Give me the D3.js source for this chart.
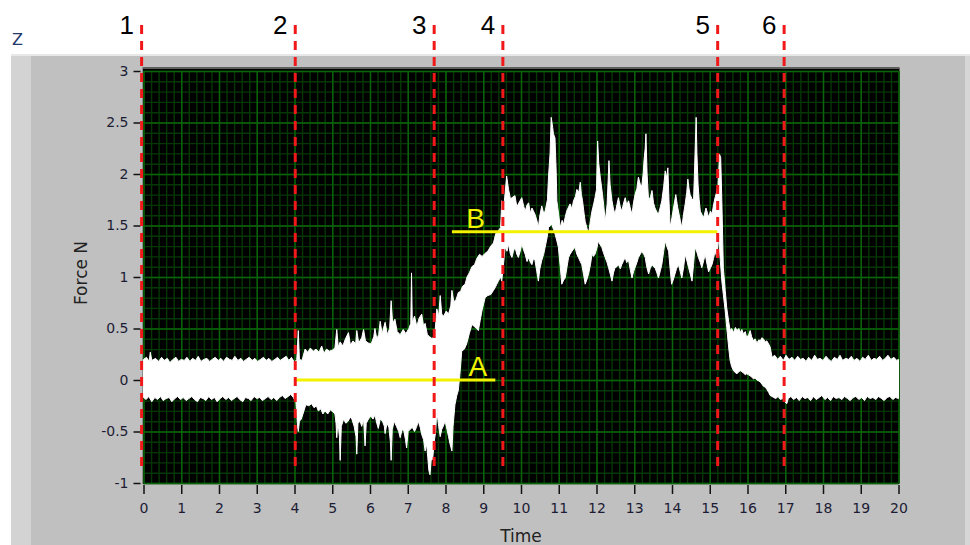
<!DOCTYPE html>
<html>
<head>
<meta charset="utf-8">
<script src="https://cdn.jsdelivr.net/npm/d3@7"></script>
<style>
    body { margin: 0; background: #fff; }
    svg { display: block; }
    .axis text { font-family: "DejaVu Sans", sans-serif; font-size: 14px; fill: #1c1c34; }
    .axis line { stroke: #111; stroke-width: 1.5; }
    .grid text { display: none; }
</style>
</head>
<body>
<script>
// axis ticks
const xTicks = [0,1,2,3,4,5,6,7,8,9,10,11,12,13,14,15,16,17,18,19,20];
const yTicks = [-1,-0.5,0,0.5,1,1.5,2,2.5,3];

// phase markers (red dashed) and level markers (yellow)
const phaseX = [-0.05, 4.02, 7.70, 9.52, 15.21, 16.97];
const phaseNames = ["1", "2", "3", "4", "5", "6"];
const levelNames = ["A", "B"];
const levelValue = [0, 1.44];
const levelStart = [4.02, 8.17];
const levelEnd = [9.32, 15.20];
const levelLabelX = [8.86, 8.80];

// upper edge of the force trace, [time, force]
const upperEnv = [
[0.00,0.20],[0.08,0.22],[0.15,0.18],[0.18,0.27],[0.22,0.19],[0.32,0.21],[0.40,0.18],[0.48,0.22],[0.55,0.19],[0.63,0.21],
[0.70,0.17],[0.78,0.20],[0.86,0.22],[0.93,0.18],[1.00,0.20],[1.08,0.19],[1.15,0.22],[1.23,0.18],[1.30,0.21],[1.38,0.19],
[1.45,0.23],[1.52,0.18],[1.60,0.20],[1.68,0.21],[1.75,0.18],[1.82,0.20],[1.90,0.22],[1.98,0.19],[2.05,0.21],[2.12,0.18],
[2.20,0.22],[2.28,0.20],[2.35,0.19],[2.42,0.23],[2.50,0.19],[2.58,0.21],[2.65,0.18],[2.72,0.20],[2.80,0.22],[2.88,0.19],
[2.95,0.21],[3.02,0.18],[3.10,0.20],[3.18,0.22],[3.25,0.19],[3.32,0.21],[3.40,0.18],[3.48,0.20],[3.55,0.22],[3.62,0.19],
[3.70,0.21],[3.78,0.23],[3.85,0.19],[3.92,0.22],[4.00,0.17],
[4.06,0.20],[4.10,0.48],[4.13,0.20],[4.20,0.19],[4.28,0.30],[4.35,0.27],[4.42,0.31],[4.50,0.28],[4.57,0.30],[4.65,0.27],
[4.72,0.33],[4.78,0.26],[4.85,0.30],[4.92,0.28],[5.00,0.29],[5.07,0.31],[5.12,0.49],[5.16,0.32],[5.21,0.37],[5.28,0.33],
[5.35,0.40],[5.43,0.46],[5.48,0.34],[5.55,0.38],[5.62,0.35],[5.65,0.48],[5.70,0.36],[5.78,0.41],[5.83,0.49],[5.88,0.38],
[5.95,0.36],[6.03,0.35],[6.10,0.42],[6.13,0.50],[6.18,0.40],[6.23,0.44],[6.27,0.57],[6.32,0.45],[6.40,0.56],[6.46,0.44],
[6.52,0.50],[6.56,0.77],[6.60,0.55],[6.66,0.59],[6.72,0.47],[6.80,0.44],[6.88,0.49],[6.95,0.45],[7.03,0.50],[7.08,0.55],
[7.10,1.04],[7.12,0.56],[7.18,0.62],[7.24,0.52],[7.30,0.60],[7.37,0.64],[7.42,0.52],[7.46,0.55],[7.52,0.44],[7.58,0.42],
[7.65,0.40],[7.72,0.45],[7.77,0.69],[7.82,0.62],[7.86,0.82],[7.90,0.64],[7.95,0.62],[8.02,0.67],[8.08,0.64],[8.14,0.72],
[8.17,0.87],[8.22,0.76],[8.28,0.78],[8.34,0.85],[8.40,0.86],[8.45,0.91],[8.52,0.93],[8.57,1.00],[8.63,1.04],[8.70,1.10],
[8.77,1.12],[8.83,1.18],[8.90,1.22],[8.97,1.20],[9.05,1.23],[9.12,1.25],[9.20,1.30],[9.27,1.33],[9.33,1.42],[9.40,1.45],
[9.46,1.48],
[9.49,1.74],[9.55,1.70],[9.62,1.98],[9.67,1.85],[9.72,1.76],[9.76,1.77],[9.84,1.79],[9.89,1.68],[9.93,1.71],[10.02,1.77],
[10.07,1.69],[10.11,1.64],[10.16,1.70],[10.20,1.72],[10.25,1.62],[10.29,1.67],[10.37,1.61],[10.42,1.55],[10.46,1.48],[10.50,1.60],
[10.55,1.69],[10.60,1.62],[10.64,1.64],[10.70,1.75],[10.73,1.98],[10.77,2.20],[10.80,2.55],[10.84,2.45],[10.86,2.39],[10.90,2.35],
[10.93,2.05],[10.95,1.74],[11.00,1.60],[11.04,1.48],[11.09,1.55],[11.13,1.51],[11.17,1.58],[11.21,1.64],[11.26,1.68],[11.30,1.71],
[11.35,1.66],[11.39,1.74],[11.44,1.78],[11.48,1.85],[11.53,1.82],[11.57,1.92],[11.60,1.80],[11.63,1.74],[11.67,1.62],[11.70,1.54],
[11.75,1.47],[11.79,1.42],[11.84,1.55],[11.88,1.64],[11.92,1.70],[11.96,1.77],[12.00,1.85],[12.03,2.32],[12.06,2.10],[12.10,1.97],
[12.16,1.80],[12.20,1.66],[12.23,1.54],[12.28,1.70],[12.31,1.95],[12.33,2.13],[12.36,1.90],[12.41,1.74],[12.45,1.66],[12.49,1.61],
[12.54,1.70],[12.58,1.77],[12.63,1.68],[12.67,1.64],[12.72,1.72],[12.76,1.77],[12.80,1.70],[12.85,1.74],[12.90,1.66],[12.94,1.61],
[12.98,1.72],[13.02,1.80],[13.07,1.86],[13.11,1.97],[13.16,1.90],[13.20,1.88],[13.24,2.02],[13.26,2.14],[13.29,2.25],[13.31,2.39],
[13.34,2.00],[13.38,1.74],[13.43,1.78],[13.47,1.84],[13.51,1.72],[13.55,1.67],[13.60,1.63],[13.64,1.61],[13.69,1.68],[13.73,1.74],
[13.78,1.88],[13.82,2.03],[13.86,1.96],[13.89,2.06],[13.92,1.75],[13.95,1.48],[14.00,1.58],[14.04,1.67],[14.10,1.80],[14.14,1.70],
[14.17,1.64],[14.22,1.55],[14.26,1.48],[14.31,1.62],[14.35,1.71],[14.39,1.82],[14.42,1.95],[14.45,1.86],[14.48,1.80],[14.53,1.76],
[14.57,1.74],[14.59,1.95],[14.61,2.19],[14.64,2.55],[14.66,2.20],[14.69,1.90],[14.72,1.75],[14.75,1.64],[14.80,1.60],[14.84,1.58],
[14.90,1.67],[14.94,1.62],[14.97,1.58],[15.02,1.64],[15.06,1.61],[15.10,1.70],[15.14,1.77],[15.18,1.82],[15.22,1.90],[15.26,2.19],
[15.29,2.16],[15.32,1.74],[15.36,1.09],[15.41,0.87],[15.45,0.70],[15.50,0.57],[15.54,0.48],[15.58,0.50],[15.63,0.46],[15.68,0.51],
[15.72,0.48],[15.77,0.50],[15.81,0.46],[15.85,0.49],[15.89,0.45],[15.94,0.47],[15.98,0.41],[16.03,0.44],[16.07,0.48],[16.11,0.42],
[16.16,0.38],[16.20,0.40],[16.25,0.36],[16.30,0.39],[16.34,0.38],[16.38,0.41],[16.42,0.40],[16.47,0.37],[16.51,0.38],[16.56,0.35],
[16.60,0.32],[16.65,0.22],
[16.72,0.24],[16.80,0.20],[16.87,0.23],[16.95,0.19],[17.02,0.24],[17.10,0.20],[17.18,0.22],[17.25,0.19],[17.33,0.23],[17.40,0.20],
[17.48,0.21],[17.55,0.18],[17.62,0.22],[17.70,0.19],[17.78,0.24],[17.85,0.20],[17.92,0.21],[18.00,0.19],[18.08,0.23],[18.15,0.20],
[18.22,0.18],[18.30,0.22],[18.38,0.20],[18.45,0.24],[18.52,0.19],[18.60,0.21],[18.68,0.20],[18.75,0.23],[18.82,0.19],[18.90,0.21],
[18.98,0.18],[19.05,0.22],[19.12,0.20],[19.20,0.24],[19.28,0.19],[19.35,0.21],[19.42,0.20],[19.50,0.23],[19.58,0.19],[19.65,0.21],
[19.72,0.24],[19.80,0.20],[19.88,0.22],[19.95,0.19],[20.00,0.20]
];

// lower edge of the force trace, [time, force]
const lowerEnv = [
[0.00,-0.17],[0.07,-0.19],[0.14,-0.16],[0.22,-0.21],[0.30,-0.17],[0.37,-0.19],[0.45,-0.16],[0.52,-0.20],[0.60,-0.18],[0.68,-0.17],
[0.75,-0.21],[0.83,-0.18],[0.90,-0.16],[0.98,-0.19],[1.05,-0.17],[1.13,-0.20],[1.20,-0.18],[1.28,-0.16],[1.35,-0.19],[1.43,-0.21],
[1.50,-0.17],[1.58,-0.18],[1.65,-0.20],[1.73,-0.16],[1.80,-0.19],[1.88,-0.17],[1.95,-0.21],[2.03,-0.18],[2.10,-0.16],[2.18,-0.19],
[2.25,-0.17],[2.33,-0.20],[2.40,-0.18],[2.48,-0.16],[2.55,-0.19],[2.63,-0.21],[2.70,-0.17],[2.78,-0.18],[2.85,-0.20],[2.93,-0.16],
[3.00,-0.18],[3.08,-0.17],[3.15,-0.20],[3.23,-0.18],[3.30,-0.16],[3.38,-0.19],[3.45,-0.17],[3.53,-0.20],[3.60,-0.17],[3.68,-0.15],
[3.75,-0.18],[3.83,-0.16],[3.90,-0.14],[3.97,-0.17],
[4.04,-0.22],[4.08,-0.45],[4.10,-0.50],[4.13,-0.40],[4.18,-0.38],[4.25,-0.30],[4.30,-0.24],[4.38,-0.25],[4.45,-0.23],[4.52,-0.27],
[4.58,-0.25],[4.63,-0.30],[4.70,-0.28],[4.75,-0.33],[4.81,-0.30],[4.88,-0.33],[4.95,-0.29],[5.02,-0.31],[5.07,-0.33],[5.10,-0.42],
[5.12,-0.56],[5.15,-0.40],[5.19,-0.55],[5.21,-0.78],[5.24,-0.45],[5.30,-0.38],[5.36,-0.42],[5.42,-0.40],[5.48,-0.36],[5.52,-0.38],
[5.58,-0.45],[5.63,-0.55],[5.65,-0.72],[5.68,-0.42],[5.74,-0.40],[5.78,-0.45],[5.83,-0.38],[5.87,-0.64],[5.90,-0.42],[5.96,-0.38],
[6.02,-0.35],[6.08,-0.38],[6.13,-0.34],[6.18,-0.42],[6.22,-0.47],[6.27,-0.38],[6.33,-0.40],[6.38,-0.45],[6.40,-0.52],[6.45,-0.42],
[6.50,-0.46],[6.54,-0.60],[6.56,-0.78],[6.59,-0.48],[6.64,-0.40],[6.70,-0.45],[6.76,-0.50],[6.80,-0.56],[6.85,-0.48],[6.90,-0.50],
[6.94,-0.58],[6.97,-0.66],[7.01,-0.50],[7.06,-0.48],[7.12,-0.46],[7.18,-0.50],[7.24,-0.45],[7.28,-0.40],[7.33,-0.46],[7.37,-0.53],
[7.42,-0.58],[7.46,-0.69],[7.50,-0.62],[7.53,-0.75],[7.56,-0.88],[7.59,-0.92],[7.62,-0.78],[7.66,-0.77],[7.70,-0.60],[7.74,-0.50],
[7.77,-0.30],[7.82,-0.45],[7.86,-0.55],[7.90,-0.48],[7.94,-0.45],[7.99,-0.40],[8.04,-0.48],[8.08,-0.55],[8.12,-0.62],[8.17,-0.69],
[8.20,-0.45],[8.25,-0.24],[8.30,-0.15],[8.34,-0.10],[8.38,0.05],[8.43,0.28],[8.50,0.30],[8.56,0.35],[8.63,0.45],[8.70,0.54],
[8.76,0.52],[8.82,0.50],[8.87,0.48],[8.92,0.58],[8.97,0.68],[9.05,0.80],[9.12,0.82],[9.20,0.83],[9.27,0.87],[9.32,0.90],
[9.40,0.96],[9.46,1.00],
[9.49,0.96],[9.53,1.10],[9.58,1.29],[9.63,1.25],[9.67,1.32],[9.72,1.22],[9.76,1.19],[9.80,1.25],[9.84,1.29],[9.89,1.22],
[9.93,1.19],[9.98,1.25],[10.02,1.32],[10.07,1.26],[10.11,1.22],[10.16,1.15],[10.20,1.19],[10.25,1.14],[10.29,1.12],[10.33,1.18],
[10.37,1.16],[10.42,1.05],[10.46,0.96],[10.50,1.08],[10.55,1.16],[10.60,1.22],[10.64,1.29],[10.69,1.38],[10.73,1.48],[10.78,1.50],
[10.82,1.51],[10.86,1.46],[10.90,1.42],[10.95,1.35],[10.99,1.29],[11.04,1.10],[11.08,0.93],[11.13,0.97],[11.17,0.99],[11.22,1.10],
[11.26,1.19],[11.30,1.22],[11.35,1.25],[11.39,1.27],[11.43,1.29],[11.48,1.22],[11.52,1.19],[11.57,1.15],[11.61,1.12],[11.66,1.02],
[11.70,0.93],[11.75,0.98],[11.79,1.03],[11.84,1.12],[11.88,1.22],[11.92,1.20],[11.96,1.22],[12.01,1.28],[12.05,1.35],[12.10,1.31],
[12.14,1.29],[12.18,1.24],[12.23,1.19],[12.28,1.14],[12.32,1.09],[12.37,1.02],[12.41,0.96],[12.45,1.04],[12.49,1.09],[12.54,1.10],
[12.58,1.12],[12.63,1.08],[12.67,1.12],[12.72,1.16],[12.76,1.19],[12.80,1.14],[12.85,1.16],[12.90,1.06],[12.94,0.99],[12.98,1.05],
[13.02,1.09],[13.07,1.14],[13.11,1.19],[13.16,1.22],[13.20,1.25],[13.25,1.22],[13.29,1.19],[13.33,1.10],[13.38,1.03],[13.42,1.08],
[13.47,1.12],[13.51,1.10],[13.55,1.09],[13.60,1.04],[13.64,0.99],[13.69,1.06],[13.73,1.12],[13.78,1.25],[13.82,1.35],[13.86,1.30],
[13.91,1.25],[13.95,1.08],[13.99,0.93],[14.04,0.98],[14.08,1.03],[14.12,1.08],[14.17,1.12],[14.22,1.05],[14.26,0.99],[14.31,1.10],
[14.35,1.22],[14.40,1.15],[14.44,1.09],[14.49,1.02],[14.53,0.96],[14.57,1.12],[14.61,1.29],[14.66,1.24],[14.70,1.19],[14.75,1.14],
[14.79,1.09],[14.84,1.16],[14.88,1.22],[14.93,1.12],[14.97,1.05],[15.02,1.09],[15.06,1.12],[15.10,1.18],[15.14,1.25],[15.19,1.19],
[15.23,1.40],[15.28,1.16],[15.32,0.96],[15.36,0.83],[15.41,0.67],[15.45,0.51],[15.50,0.32],[15.54,0.19],[15.58,0.13],[15.63,0.09],
[15.68,0.07],[15.72,0.06],[15.77,0.08],[15.81,0.09],[15.85,0.08],[15.89,0.07],[15.94,0.05],[15.98,0.06],[16.03,0.05],[16.07,0.04],
[16.11,0.03],[16.16,0.01],[16.20,0.02],[16.25,0.00],[16.30,-0.01],[16.34,-0.02],[16.38,-0.04],[16.42,-0.06],[16.47,-0.07],[16.51,-0.09],
[16.56,-0.12],[16.60,-0.15],[16.65,-0.16],[16.69,-0.17],[16.75,-0.18],[16.81,-0.16],[16.87,-0.19],[16.93,-0.18],[16.98,-0.21],[17.04,-0.23],
[17.08,-0.18],
[17.15,-0.16],[17.22,-0.19],[17.30,-0.17],[17.37,-0.20],[17.45,-0.16],[17.52,-0.18],[17.60,-0.17],[17.67,-0.20],[17.75,-0.16],[17.82,-0.19],
[17.90,-0.17],[17.97,-0.15],[18.05,-0.19],[18.12,-0.17],[18.20,-0.20],[18.27,-0.16],[18.35,-0.18],[18.42,-0.17],[18.50,-0.19],[18.57,-0.16],
[18.65,-0.18],[18.72,-0.20],[18.80,-0.17],[18.87,-0.16],[18.95,-0.19],[19.02,-0.17],[19.10,-0.20],[19.17,-0.16],[19.25,-0.18],[19.32,-0.17],
[19.40,-0.19],[19.47,-0.16],[19.55,-0.18],[19.62,-0.20],[19.70,-0.17],[19.77,-0.16],[19.85,-0.19],[19.92,-0.17],[20.00,-0.18]
];

const margin = { top: 71, left: 143.5 },
    width = 755,
    height = 412;

var svg = d3.select("body").append("svg")
    .attr("width", 970)
    .attr("height", 545);

// grey LabVIEW frame
svg.append("rect").attr("x", 11).attr("y", 54).attr("width", 959).attr("height", 491).attr("fill", "#c0c0c0");
svg.append("rect").attr("x", 11).attr("y", 56).attr("width", 20).attr("height", 489).attr("fill", "#d3d3d3");
svg.append("rect").attr("x", 965).attr("y", 56).attr("width", 5).attr("height", 489).attr("fill", "#d6d6d6");
svg.append("rect").attr("x", 11).attr("y", 54).attr("width", 959).attr("height", 2).attr("fill", "#e8e8e8");

svg.append("text")
    .attr("x", 12)
    .attr("y", 45)
    .style("font-family", "DejaVu Sans, sans-serif")
    .style("font-size", "16px")
    .style("fill", "#24386a")
    .text("Z");

var g = svg.append("g")
    .attr("transform", "translate(" + margin.left + "," + margin.top + ")");

var x = d3.scaleLinear()
    .domain([0, 20])
    .range([0, width]);

var y = d3.scaleLinear()
    .domain([-1, 3])
    .range([height, 0]);

// plot background
g.append("rect")
    .attr("x", -1)
    .attr("y", -3)
    .attr("width", width + 2)
    .attr("height", height + 4)
    .attr("fill", "#000");

// minor grid
g.append("g")
    .attr("class", "grid")
    .call(d3.axisTop(x).ticks(80).tickSize(-height).tickFormat(""))
    .call(s => s.select(".domain").remove())
    .selectAll("line").attr("stroke", "#063806").attr("stroke-width", 1.4);
g.append("g")
    .attr("class", "grid")
    .call(d3.axisLeft(y).ticks(40).tickSize(-width).tickFormat(""))
    .call(s => s.select(".domain").remove())
    .selectAll("line").attr("stroke", "#063806").attr("stroke-width", 1.4);

// major grid
g.append("g")
    .attr("class", "grid")
    .call(d3.axisTop(x).tickValues(xTicks).tickSize(-height).tickFormat(""))
    .call(s => s.select(".domain").remove())
    .selectAll("line").attr("stroke", "#0a650a").attr("stroke-width", 1.4);
g.append("g")
    .attr("class", "grid")
    .call(d3.axisLeft(y).tickValues(yTicks).tickSize(-width).tickFormat(""))
    .call(s => s.select(".domain").remove())
    .selectAll("line").attr("stroke", "#0a650a").attr("stroke-width", 1.4);

// plot border
g.append("line").attr("x1", -1).attr("x2", width + 1).attr("y1", -3).attr("y2", -3)
    .attr("stroke", "#5e5e5e").attr("stroke-width", 2);
g.append("line").attr("x1", -1).attr("x2", -1).attr("y1", -3).attr("y2", height + 1)
    .attr("stroke", "#8c8c8c").attr("stroke-width", 1);

// force trace as its envelope
var traceLine = d3.line()
    .x(d => x(d[0]))
    .y(d => y(d[1]));

g.append("path")
    .datum(upperEnv.concat(lowerEnv.slice().reverse()))
    .attr("d", d => traceLine(d) + "Z")
    .attr("fill", "#fff")
    .attr("stroke", "#fff")
    .attr("stroke-width", 1)
    .attr("stroke-linejoin", "miter");

// axes
var yAxis = d3.axisLeft(y)
    .tickValues(yTicks)
    .tickSize(7)
    .tickPadding(5)
    .tickFormat(d => String(d));
g.append("g")
    .attr("class", "axis")
    .attr("transform", "translate(-3,0)")
    .call(yAxis)
    .call(s => s.select(".domain").remove());

var xAxis = d3.axisBottom(x)
    .tickValues(xTicks)
    .tickSize(9)
    .tickPadding(9);
g.append("g")
    .attr("class", "axis")
    .attr("transform", "translate(0," + (height + 2) + ")")
    .call(xAxis)
    .call(s => s.select(".domain").remove());

g.append("text")
    .attr("x", width / 2)
    .attr("y", height + 59)
    .style("text-anchor", "middle")
    .style("font-family", "DejaVu Sans, sans-serif")
    .style("font-size", "17px")
    .style("fill", "#222")
    .text("Time");

g.append("text")
    .attr("transform", "rotate(-90)")
    .attr("x", -height / 2 + 4)
    .attr("y", -57)
    .style("text-anchor", "middle")
    .style("font-family", "DejaVu Sans, sans-serif")
    .style("font-size", "17px")
    .style("fill", "#222")
    .text("Force N");

// yellow level lines A / B
levelNames.forEach(function(name, i) {
    g.append("line")
        .attr("x1", x(levelStart[i]))
        .attr("x2", x(levelEnd[i]))
        .attr("y1", y(levelValue[i]))
        .attr("y2", y(levelValue[i]))
        .attr("stroke", "#f2f200")
        .attr("stroke-width", 3);
    g.append("text")
        .attr("x", x(levelLabelX[i]))
        .attr("y", y(levelValue[i]) - 4)
        .style("text-anchor", "middle")
        .style("font-family", "Liberation Sans, Arial, sans-serif")
        .style("font-size", "28px")
        .style("fill", "#f2f200")
        .text(name);
});

// red dashed phase lines with numbers
phaseX.forEach(function(t, i) {
    g.append("line")
        .attr("x1", x(t))
        .attr("x2", x(t))
        .attr("y1", 25 - margin.top)
        .attr("y2", 470 - margin.top)
        .attr("stroke", "#f01818")
        .attr("stroke-width", 3)
        .attr("stroke-dasharray", "9,7");
    g.append("text")
        .attr("x", x(t) - 15)
        .attr("y", 34 - margin.top)
        .style("text-anchor", "middle")
        .style("font-family", "Liberation Sans, Arial, sans-serif")
        .style("font-size", "26px")
        .style("fill", "#000")
        .text(phaseNames[i]);
});
</script>
</body>
</html>
